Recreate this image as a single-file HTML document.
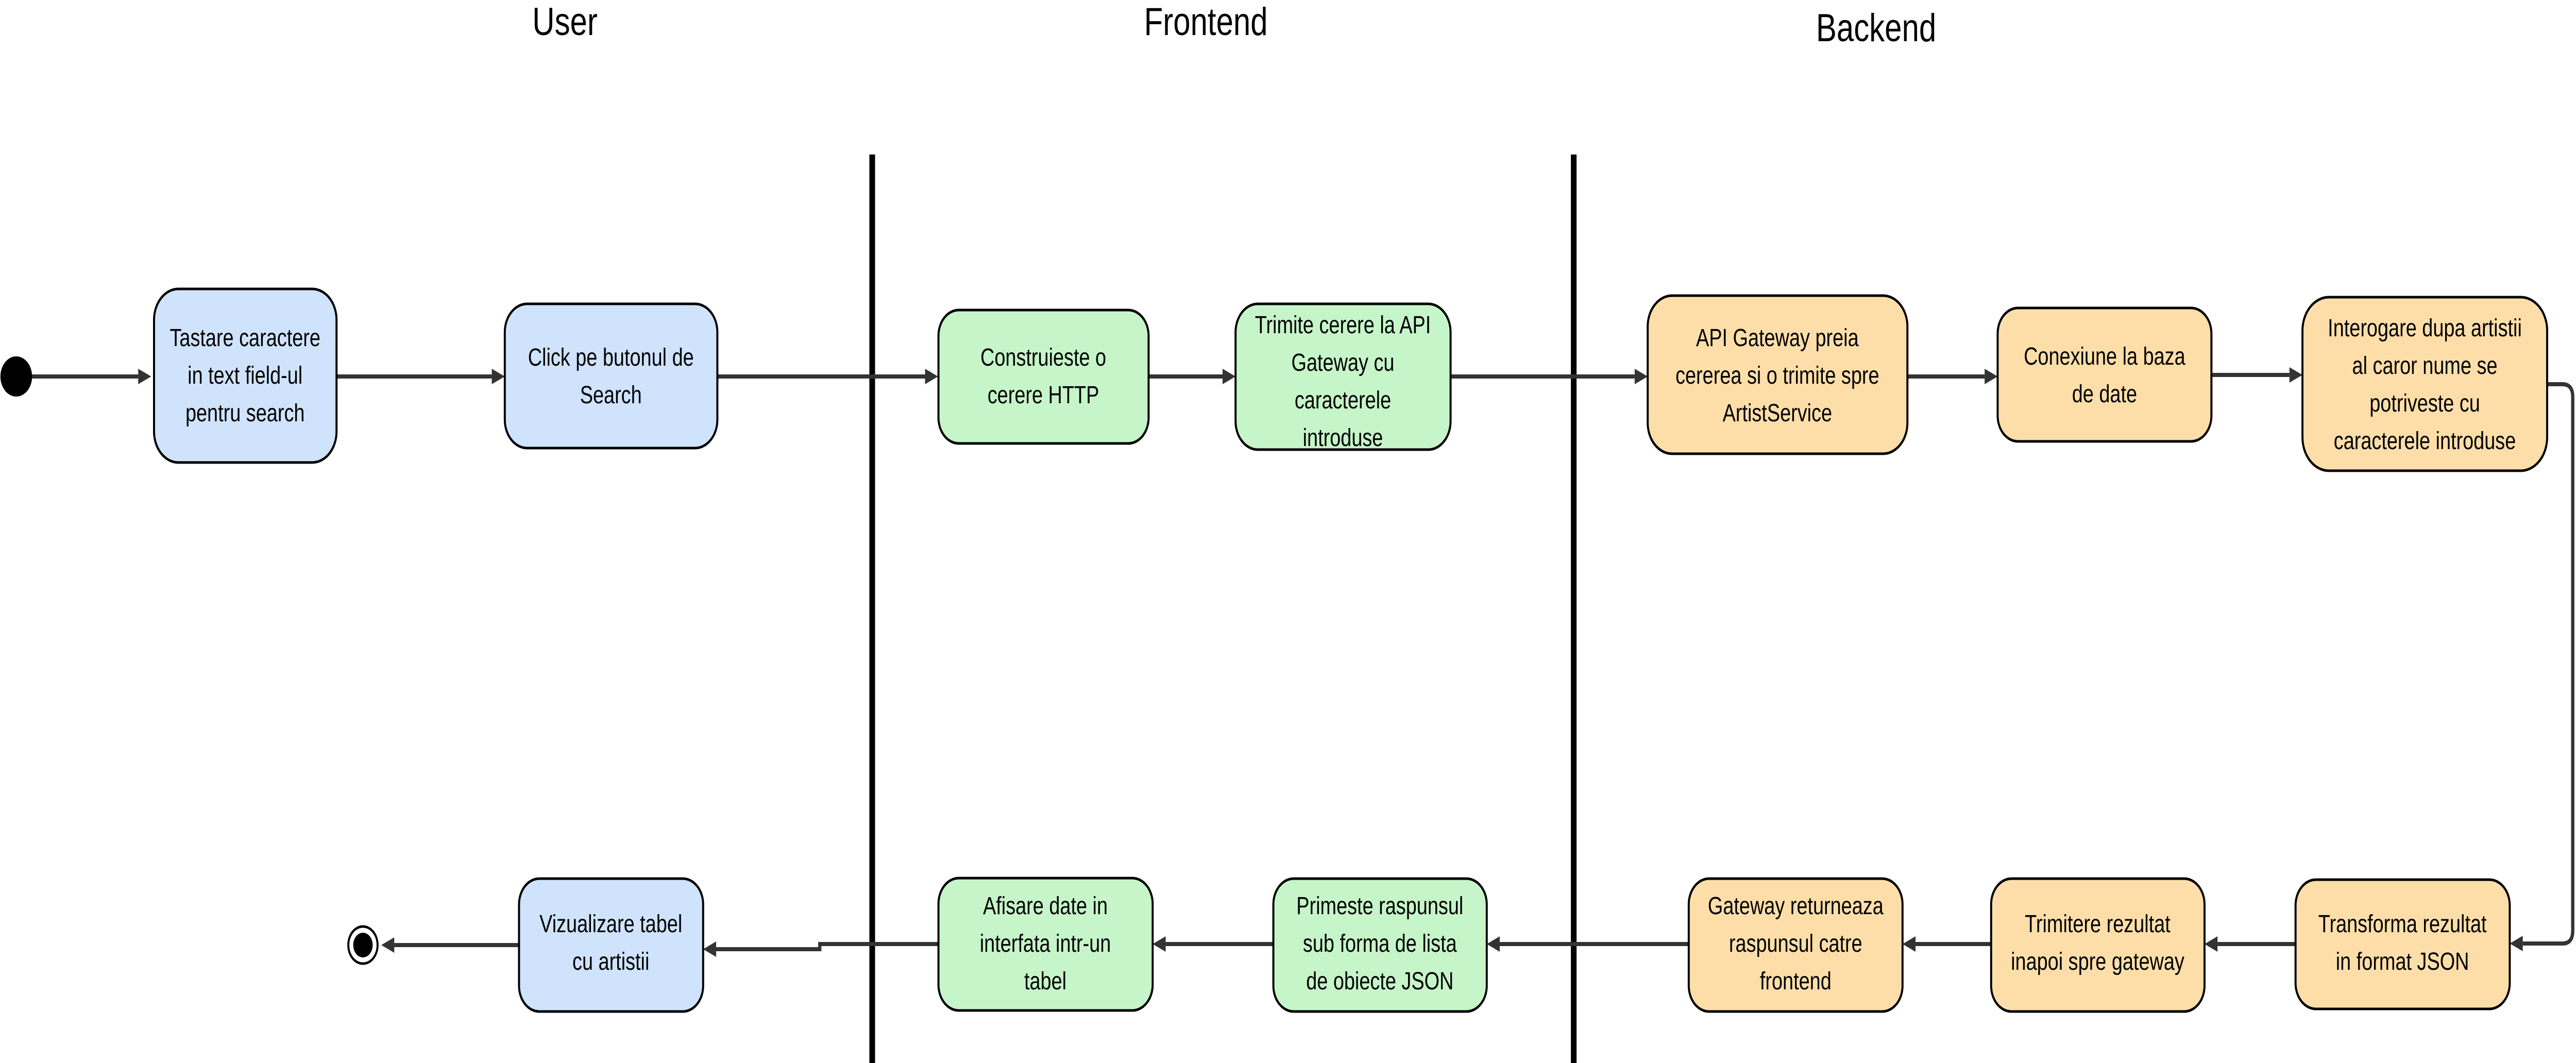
<!DOCTYPE html>
<html><head><meta charset="utf-8"><style>
html,body{margin:0;padding:0;background:#fff;width:100%;height:100%;overflow:hidden;}
svg{display:block;width:100vw;height:100vh;}
text{font-family:"Liberation Sans",sans-serif;fill:#000;}
</style></head><body>
<svg viewBox="0 0 6338 2064" preserveAspectRatio="none" xmlns="http://www.w3.org/2000/svg">
<text x="1390" y="68" font-size="76" text-anchor="middle">User</text>
<text x="2967" y="68" font-size="76" text-anchor="middle">Frontend</text>
<text x="4616" y="80" font-size="76" text-anchor="middle">Backend</text>

<rect x="2139" y="300" width="14" height="1764" fill="#000"/>
<rect x="3865" y="300" width="14" height="1764" fill="#000"/>

<g stroke="#333" stroke-width="8" fill="none">
<line x1="40" y1="731" x2="340" y2="731"/>
<line x1="828" y1="731" x2="1210" y2="731"/>
<line x1="1765" y1="731" x2="2276" y2="731"/>
<line x1="2826" y1="731" x2="3008" y2="731"/>
<line x1="3569" y1="731" x2="4022" y2="731"/>
<line x1="4693" y1="731" x2="4883" y2="731"/>
<line x1="5441" y1="728" x2="5633" y2="728"/>
<path d="M6267 746 H6305 Q6330 746 6330 771 V1807 Q6330 1832 6305 1832 H6207"/>
<line x1="5648" y1="1833" x2="5456" y2="1833"/>
<line x1="4899" y1="1833" x2="4713" y2="1833"/>
<line x1="4155" y1="1833" x2="3690" y2="1833"/>
<line x1="3133" y1="1833" x2="2868" y2="1833"/>
<path d="M2309 1833 H2017 V1843 H1762"/>
<line x1="1277" y1="1835" x2="970" y2="1835"/>
</g>
<g fill="#333">
<polygon points="372,731 340,716 340,746"/>
<polygon points="1242,731 1210,716 1210,746"/>
<polygon points="2308,731 2276,716 2276,746"/>
<polygon points="3040,731 3008,716 3008,746"/>
<polygon points="4054,731 4022,716 4022,746"/>
<polygon points="4915,731 4883,716 4883,746"/>
<polygon points="5665,728 5633,713 5633,743"/>
<polygon points="6175,1832 6207,1817 6207,1847"/>
<polygon points="5424,1833 5456,1818 5456,1848"/>
<polygon points="4681,1833 4713,1818 4713,1848"/>
<polygon points="3658,1833 3690,1818 3690,1848"/>
<polygon points="2836,1833 2868,1818 2868,1848"/>
<polygon points="1730,1843 1762,1828 1762,1858"/>
<polygon points="938,1835 970,1820 970,1850"/>
</g>

<circle cx="40" cy="731" r="39" fill="#000"/>
<circle cx="893" cy="1835" r="36" fill="#fff" stroke="#000" stroke-width="5"/>
<circle cx="893" cy="1835" r="24" fill="#000"/>

<g stroke="#000" stroke-width="5">
<rect x="379" y="561" width="449" height="337" rx="60" fill="#cfe3fd"/>
<rect x="1242" y="590" width="523" height="280" rx="55" fill="#cfe3fd"/>
<rect x="1277" y="1706" width="453" height="258" rx="50" fill="#cfe3fd"/>
<rect x="2309" y="602" width="517" height="259" rx="50" fill="#c5f5c8"/>
<rect x="3040" y="590" width="529" height="283" rx="55" fill="#c5f5c8"/>
<rect x="2309" y="1705" width="527" height="257" rx="50" fill="#c5f5c8"/>
<rect x="3133" y="1706" width="525" height="258" rx="50" fill="#c5f5c8"/>
<rect x="4054" y="574" width="639" height="307" rx="60" fill="#fddea9"/>
<rect x="4915" y="598" width="526" height="259" rx="50" fill="#fddea9"/>
<rect x="5665" y="577" width="602" height="337" rx="65" fill="#fddea9"/>
<rect x="4155" y="1706" width="526" height="258" rx="50" fill="#fddea9"/>
<rect x="4899" y="1706" width="525" height="258" rx="50" fill="#fddea9"/>
<rect x="5648" y="1708" width="527" height="251" rx="50" fill="#fddea9"/>
</g>

<g font-size="48" text-anchor="middle">
<text x="603" y="672">Tastare caractere</text>
<text x="603" y="745">in text field-ul</text>
<text x="603" y="818">pentru search</text>
<text x="1503" y="710">Click pe butonul de</text>
<text x="1503" y="783">Search</text>
<text x="1503" y="1810">Vizualizare tabel</text>
<text x="1503" y="1883">cu artistii</text>
<text x="2567" y="710">Construieste o</text>
<text x="2567" y="783">cerere HTTP</text>
<text x="3304" y="647">Trimite cerere la API</text>
<text x="3304" y="720">Gateway cu</text>
<text x="3304" y="793">caracterele</text>
<text x="3304" y="866">introduse</text>
<text x="2572" y="1775">Afisare date in</text>
<text x="2572" y="1848">interfata intr-un</text>
<text x="2572" y="1921">tabel</text>
<text x="3395" y="1775">Primeste raspunsul</text>
<text x="3395" y="1848">sub forma de lista</text>
<text x="3395" y="1921">de obiecte JSON</text>
<text x="4373" y="672">API Gateway preia</text>
<text x="4373" y="745">cererea si o trimite spre</text>
<text x="4373" y="818">ArtistService</text>
<text x="5178" y="708">Conexiune la baza</text>
<text x="5178" y="781">de date</text>
<text x="5966" y="653">Interogare dupa artistii</text>
<text x="5966" y="726">al caror nume se</text>
<text x="5966" y="799">potriveste cu</text>
<text x="5966" y="872">caracterele introduse</text>
<text x="4418" y="1775">Gateway returneaza</text>
<text x="4418" y="1848">raspunsul catre</text>
<text x="4418" y="1921">frontend</text>
<text x="5161" y="1810">Trimitere rezultat</text>
<text x="5161" y="1883">inapoi spre gateway</text>
<text x="5911" y="1810">Transforma rezultat</text>
<text x="5911" y="1883">in format JSON</text>
</g>
</svg>
</body></html>
